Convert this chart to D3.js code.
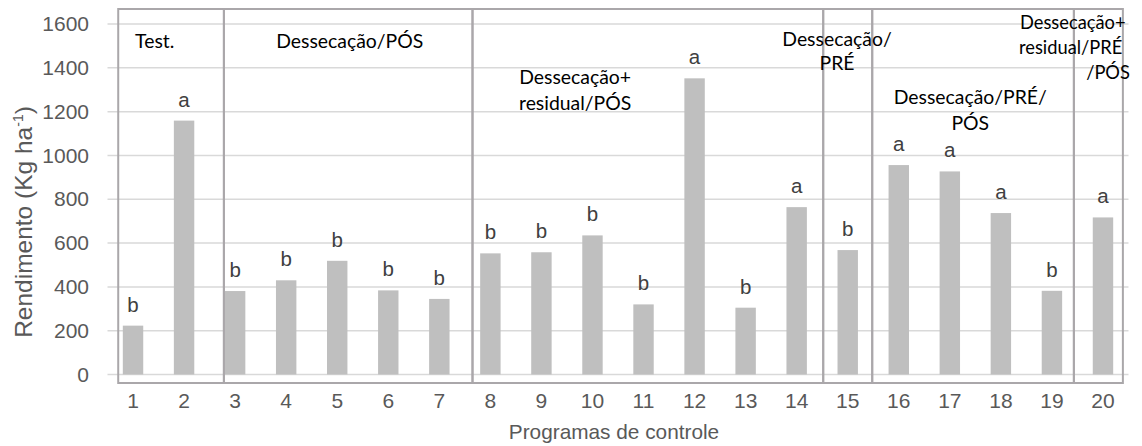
<!DOCTYPE html>
<html>
<head>
<meta charset="utf-8">
<script src="https://cdn.jsdelivr.net/npm/d3@7"></script>
<style>
  html, body { margin: 0; padding: 0; background: #fff; }
  svg { display: block; }
</style>
</head>
<body>
<svg id="chart" width="1142" height="446"></svg>
<script>
// ---------- data ----------
const categories = ["1","2","3","4","5","6","7","8","9","10","11","12","13","14","15","16","17","18","19","20"];
const values = [223, 1159, 381, 430, 519, 384, 345, 553, 558, 635, 320, 1352, 305, 764, 568, 956, 927, 737, 382, 717];
const letters = ["b","a","b","b","b","b","b","b","b","b","b","a","b","a","b","a","a","a","b","a"];
const yTicks = [0, 200, 400, 600, 800, 1000, 1200, 1400, 1600];
const xTitle = "Programas de controle";
const yTitleMain = "Rendimento (Kg ha";
const yTitleSup = "-1";
// group boxes: edges expressed in category units (1 = centre of category "1")
const groupEdges = [0.71, 2.78, 7.65, 14.52, 15.48, 19.43, 20.39];
// group labels: text lines
const groupLabelLines = [
  ["Test."],
  ["Dessecação/PÓS"],
  ["Dessecação+", "residual/PÓS"],
  ["Dessecação/", "PRÉ"],
  ["Dessecação/PRÉ/", "PÓS"],
  ["Dessecação+", "residual/PRÉ", "/PÓS"]
];

// ---------- layout (positions kept apart from data) ----------
const W = 1142, H = 446;
const plot = { left: 107.5, right: 1128.5, top: 24, bottom: 374.5 };
const boxTop = 9, boxBottom = 383;
// label anchors: x in category units, y in data units (first baseline), anchor
const labelLayout = [
  { lines: [{ u: 1.04, anchor: "start" }], y: 1490, size: 19.4, lh: 0 },
  { lines: [{ u: 5.245, anchor: "middle" }], y: 1490, size: 19.4, lh: 0 },
  { lines: [{ u: 9.66, anchor: "middle" }, { u: 9.66, anchor: "middle" }], y: 1326, size: 19.4, lh: 26 },
  { lines: [{ u: 14.79, anchor: "middle" }, { u: 14.79, anchor: "middle" }], y: 1500, size: 19.4, lh: 24 },
  { lines: [{ u: 17.40, anchor: "middle" }, { u: 17.40, anchor: "middle" }], y: 1235, size: 19.4, lh: 26 },
  { lines: [{ u: 18.375, anchor: "start" }, { u: 18.355, anchor: "start" }, { u: 19.67, anchor: "start" }], y: 1577, size: 18.3, lh: 25 }
];

const svg = d3.select("#chart");

const x = d3.scaleBand()
  .domain(categories)
  .range([plot.left, plot.right])
  .paddingInner(0.6)
  .paddingOuter(0.3);
const y = d3.scaleLinear().domain([0, 1600]).range([plot.bottom, plot.top]);

const step = x.step();
const centre = c => x(c) + x.bandwidth() / 2;
const xu = u => centre(categories[0]) + (u - 1) * step;

// gridlines
svg.append("g")
  .selectAll("line")
  .data(yTicks)
  .join("line")
  .attr("x1", plot.left).attr("x2", plot.right)
  .attr("y1", d => y(d)).attr("y2", d => y(d))
  .attr("stroke", "#d9d9d9")
  .attr("stroke-width", 1.5);

// y axis labels
const yAxis = d3.axisLeft(y).tickValues(yTicks).tickFormat(d3.format("d")).tickSize(0).tickPadding(0);
const gy = svg.append("g").attr("transform", "translate(89,0)").call(yAxis);
gy.select(".domain").remove();
gy.selectAll("text")
  .attr("font-family", "'Liberation Sans', Arial, sans-serif")
  .attr("font-size", 21)
  .attr("fill", "#595959");

// x axis labels
const xAxis = d3.axisBottom(x).tickSize(0).tickPadding(0);
const gx = svg.append("g").attr("transform", "translate(0,393)").call(xAxis);
gx.select(".domain").remove();
gx.selectAll("text")
  .attr("font-family", "'Liberation Sans', Arial, sans-serif")
  .attr("font-size", 21)
  .attr("fill", "#595959");

// bars
svg.append("g")
  .selectAll("rect")
  .data(categories.map((c, i) => ({ c, v: values[i] })))
  .join("rect")
  .attr("x", d => x(d.c))
  .attr("width", x.bandwidth())
  .attr("y", d => y(d.v))
  .attr("height", d => y(0) - y(d.v))
  .attr("fill", "#bfbfbf");

// letters above bars
svg.append("g")
  .selectAll("text")
  .data(categories.map((c, i) => ({ c, v: values[i], l: letters[i] })))
  .join("text")
  .attr("x", d => centre(d.c))
  .attr("y", d => y(d.v) - 14)
  .attr("text-anchor", "middle")
  .attr("font-family", "'Liberation Sans', Arial, sans-serif")
  .attr("font-size", 20.5)
  .attr("fill", "#404040")
  .text(d => d.l);

// group boxes
const boxes = d3.pairs(groupEdges);
svg.append("g")
  .selectAll("rect")
  .data(boxes)
  .join("rect")
  .attr("x", d => xu(d[0]))
  .attr("width", d => xu(d[1]) - xu(d[0]))
  .attr("y", boxTop)
  .attr("height", boxBottom - boxTop)
  .attr("fill", "none")
  .attr("stroke", "#aaa7aa")
  .attr("stroke-width", 2);

// clip for group labels (right edge of last box)
svg.append("clipPath").attr("id", "lblclip")
  .append("rect").attr("x", 0).attr("y", 0)
  .attr("width", xu(groupEdges[groupEdges.length - 1]) + 7).attr("height", H);

const gl = svg.append("g").attr("clip-path", "url(#lblclip)");
groupLabelLines.forEach((lines, gi) => {
  const lay = labelLayout[gi];
  lines.forEach((t, li) => {
    gl.append("text")
      .attr("x", xu(lay.lines[li].u))
      .attr("y", y(lay.y) + li * lay.lh)
      .attr("text-anchor", lay.lines[li].anchor)
      .attr("font-family", "Lato, 'Open Sans', sans-serif")
      .attr("font-size", lay.size)
      .attr("fill", "#000")
      .text(t);
  });
});

// axis titles
svg.append("text")
  .attr("x", 614)
  .attr("y", 439)
  .attr("text-anchor", "middle")
  .attr("font-family", "'Liberation Sans', Arial, sans-serif")
  .attr("font-size", 20.8)
  .attr("fill", "#595959")
  .text(xTitle);

const yt = svg.append("text")
  .attr("transform", "translate(32,222) rotate(-90)")
  .attr("text-anchor", "middle")
  .attr("font-family", "'Liberation Sans', Arial, sans-serif")
  .attr("font-size", 24.5)
  .attr("fill", "#595959");
yt.append("tspan").text(yTitleMain);
yt.append("tspan").attr("font-size", 14).attr("dy", -9).text(yTitleSup);
yt.append("tspan").attr("dy", 9).text(")");
</script>
</body>
</html>
